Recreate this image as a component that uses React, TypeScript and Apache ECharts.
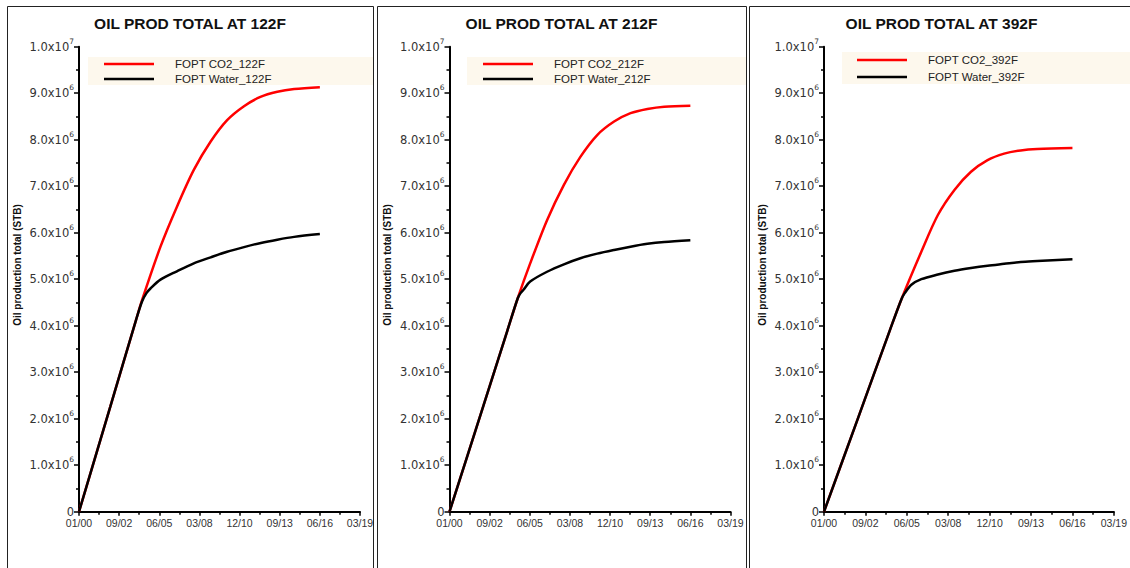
import React, { useEffect, useRef } from "react";
import * as echarts from "echarts";

// Tick labels for the date axis (one every 1000 days from 01/2000)
const xTickLabels = ["01/00", "09/02", "06/05", "03/08", "12/10", "09/13", "06/16", "03/19"];

// Field oil production total (STB) versus elapsed days, 122F case
const co2Days122 = [0, 780, 1420, 1570, 2030, 2440, 2860, 3280, 3690, 4110, 4520, 4940, 5360, 6000];
const co2Values122 = [0, 2.26e6, 4.12e6, 4.55e6, 5.7e6, 6.56e6, 7.35e6, 7.96e6, 8.42e6, 8.72e6, 8.92e6, 9.03e6, 9.09e6, 9.13e6];
const waterDays122 = [0, 780, 1420, 1570, 1680, 1780, 2030, 2440, 2860, 3280, 3690, 4110, 4530, 4940, 5360, 6000];
const waterValues122 = [0, 2.26e6, 4.12e6, 4.52e6, 4.7e6, 4.8e6, 4.99e6, 5.17e6, 5.34e6, 5.47e6, 5.59e6, 5.69e6, 5.78e6, 5.85e6, 5.91e6, 5.97e6];

// 212F case
const co2Days212 = [0, 800, 1440, 1700, 2010, 2430, 2850, 3260, 3680, 4100, 4510, 4930, 5350, 6000];
const co2Values212 = [0, 2.16e6, 3.89e6, 4.59e6, 5.34e6, 6.27e6, 7.03e6, 7.63e6, 8.1e6, 8.39e6, 8.57e6, 8.66e6, 8.71e6, 8.73e6];
const waterDays212 = [0, 800, 1440, 1700, 1770, 1850, 2010, 2430, 2850, 3260, 3680, 4100, 4510, 4930, 5350, 6000];
const waterValues212 = [0, 2.16e6, 3.89e6, 4.59e6, 4.7e6, 4.78e6, 4.95e6, 5.16e6, 5.32e6, 5.45e6, 5.55e6, 5.63e6, 5.7e6, 5.76e6, 5.8e6, 5.84e6];

// 392F case
const co2Days392 = [0, 800, 1590, 1870, 2350, 2750, 3150, 3550, 3950, 4350, 4750, 5150, 6000];
const co2Values392 = [0, 1.96e6, 3.9e6, 4.57e6, 5.59e6, 6.38e6, 6.92e6, 7.31e6, 7.56e6, 7.7e6, 7.77e6, 7.8e6, 7.82e6];
const waterDays392 = [0, 800, 1590, 1870, 1950, 2110, 2350, 2750, 3150, 3550, 3950, 4350, 4750, 5150, 6000];
const waterValues392 = [0, 1.96e6, 3.9e6, 4.57e6, 4.7e6, 4.88e6, 5.0e6, 5.1e6, 5.18e6, 5.24e6, 5.29e6, 5.33e6, 5.37e6, 5.39e6, 5.43e6];

const temperatures = ["122F", "212F", "392F"];
const yAxisName = "Oil production total (STB)";

const panelData = [
  { co2: [co2Days122, co2Values122], water: [waterDays122, waterValues122] },
  { co2: [co2Days212, co2Values212], water: [waterDays212, waterValues212] },
  { co2: [co2Days392, co2Values392], water: [waterDays392, waterValues392] },
];

// Layout of the three framed panels
const panels = [
  { frameX: 7, frameW: 366, gridLeft: 79, gridW: 281, titleX: 190, nameX: 17, bandX: 88, bandY: 57, bandH: 28, legendX: 104, legendY: 57, legendGap: 1 },
  { frameX: 377, frameW: 369, gridLeft: 449.5, gridW: 281, titleX: 561.5, nameX: 387, bandX: 467, bandY: 57, bandH: 28, legendX: 483, legendY: 57, legendGap: 1 },
  { frameX: 749, frameW: 400, gridLeft: 824, gridW: 291, titleX: 941.5, nameX: 762, bandX: 842, bandY: 52, bandH: 32, legendX: 857, legendY: 53, legendGap: 3 },
];

const GRID_TOP = 46.7;
const GRID_H = 465;
const SANS = "Liberation Sans, Arial, sans-serif";
const WIDE = "DejaVu Sans, sans-serif";

const pairs = (xs: number[], ys: number[]) => xs.map((x, i) => [x, ys[i]]);

function yLabel(v: number): string {
  if (v === 0) return "0";
  const exp = Math.floor(Math.log10(v) + 1e-9);
  const mant = v / Math.pow(10, exp);
  return mant.toFixed(1) + "x10{sup|" + exp + "}";
}

export default function App() {
  const ref = useRef<HTMLDivElement>(null);

  useEffect(() => {
    if (!ref.current) return;
    const chart = echarts.init(ref.current, undefined, { renderer: "svg" });

    const grid: any[] = [];
    const xAxis: any[] = [];
    const yAxis: any[] = [];
    const series: any[] = [];
    const legend: any[] = [];
    const title: any[] = [];
    const graphic: any[] = [];

    panels.forEach((p, i) => {
      const t = temperatures[i];
      const co2Name = "FOPT CO2_" + t;
      const waterName = "FOPT Water_" + t;

      grid.push({ left: p.gridLeft, top: GRID_TOP, width: p.gridW, height: GRID_H, containLabel: false });

      xAxis.push({
        type: "value",
        gridIndex: i,
        min: 0,
        max: 7000,
        interval: 1000,
        axisLine: { show: true, onZero: false, lineStyle: { color: "#000", width: 2 } },
        axisTick: { show: true, length: 4, lineStyle: { color: "#000", width: 1.5 } },
        minorTick: { show: true, splitNumber: 2, length: 3, lineStyle: { color: "#000", width: 1.5 } },
        splitLine: { show: false },
        axisLabel: {
          margin: 6,
          fontFamily: SANS,
          fontSize: 10.5,
          lineHeight: 11,
          color: "#333",
          formatter: (v: number) => xTickLabels[Math.round(v / 1000)] ?? "",
        },
      });

      yAxis.push({
        type: "value",
        gridIndex: i,
        min: 0,
        max: 1e7,
        interval: 1e6,
        axisLine: { show: true, onZero: false, lineStyle: { color: "#000", width: 2 } },
        axisTick: { show: true, length: 5, lineStyle: { color: "#000", width: 1.5 } },
        minorTick: { show: true, splitNumber: 2, length: 3, lineStyle: { color: "#000", width: 1.5 } },
        splitLine: { show: false },
        axisLabel: {
          margin: 5,
          fontFamily: WIDE,
          fontSize: 11.5,
          lineHeight: 11,
          color: "#333",
          formatter: yLabel,
          rich: {
            sup: { fontFamily: WIDE, fontSize: 7.5, lineHeight: 8, color: "#333", verticalAlign: "bottom", padding: [0, 0, 7, 0] },
          },
        },
      });

      const d = panelData[i];
      series.push({
        name: co2Name,
        type: "line",
        xAxisIndex: i,
        yAxisIndex: i,
        data: pairs(d.co2[0], d.co2[1]),
        symbol: "none",
        smooth: 0.3,
        lineStyle: { color: "#ff0000", width: 2.5 },
        itemStyle: { color: "#ff0000" },
        z: 3,
      });
      series.push({
        name: waterName,
        type: "line",
        xAxisIndex: i,
        yAxisIndex: i,
        data: pairs(d.water[0], d.water[1]),
        symbol: "none",
        smooth: 0.3,
        lineStyle: { color: "#000000", width: 2.5 },
        itemStyle: { color: "#000000" },
        z: 4,
      });

      legend.push({
        orient: "vertical",
        left: p.legendX,
        top: p.legendY,
        padding: 0,
        icon: "rect",
        itemWidth: 50,
        itemHeight: 2.5,
        itemGap: p.legendGap,
        selectedMode: false,
        data: [co2Name, waterName],
        textStyle: { fontFamily: SANS, fontSize: 11.5, lineHeight: 14, color: "#222", padding: [0, 0, 0, 16] },
      });

      title.push({
        text: "OIL PROD TOTAL AT " + t,
        left: p.titleX,
        top: 15,
        textAlign: "center",
        padding: 0,
        textStyle: { fontFamily: SANS, fontSize: 15.5, fontWeight: "bold", color: "#111" },
      });

      // panel frame
      graphic.push({
        type: "rect",
        silent: true,
        z: 0,
        shape: { x: p.frameX + 0.5, y: 6.5, width: p.frameW, height: 620 },
        style: { fill: "none", stroke: "#222", lineWidth: 1 },
      });
      // legend band
      graphic.push({
        type: "rect",
        silent: true,
        z: -1,
        shape: { x: p.bandX, y: p.bandY, width: p.frameX + p.frameW - p.bandX, height: p.bandH },
        style: { fill: "#fdf8ed" },
      });
      // y-axis name
      graphic.push({
        type: "text",
        silent: true,
        x: p.nameX,
        y: 265,
        rotation: Math.PI / 2,
        style: {
          text: yAxisName,
          fontFamily: SANS,
          fontSize: 10,
          fontWeight: "bold",
          fill: "#111",
          align: "center",
          verticalAlign: "middle",
        },
      });
    });

    chart.setOption({
      animation: false,
      backgroundColor: "#ffffff",
      title,
      legend,
      grid,
      xAxis,
      yAxis,
      series,
      graphic,
    });

    return () => chart.dispose();
  }, []);

  return (
    <div
      ref={ref}
      style={{ position: "absolute", left: 0, top: 0, width: 1130, height: 568 }}
    />
  );
}
